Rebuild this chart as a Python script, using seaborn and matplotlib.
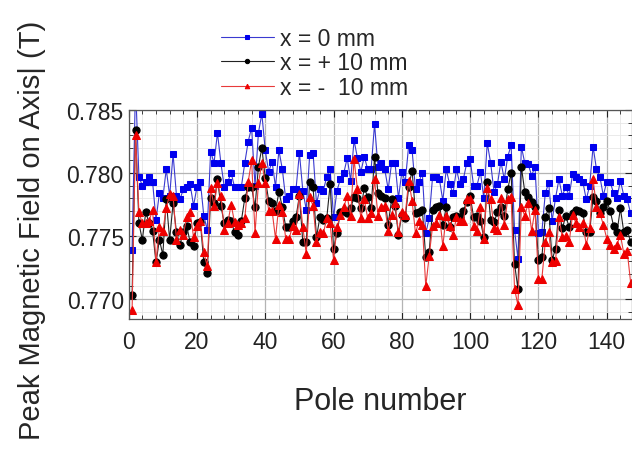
import numpy as np
import pandas as pd
import matplotlib
matplotlib.use("Agg")
import matplotlib.pyplot as plt
from matplotlib.ticker import MultipleLocator
import seaborn as sns

# peak field per pole
poles = list(range(1, 148))

field_x0 = [
    0.7739, 0.7870, 0.7797, 0.7790, 0.7793, 0.7797, 0.7793, 0.7763, 0.7784, 0.7780,
    0.7803, 0.7782, 0.7815, 0.7782, 0.7779, 0.7787, 0.7789, 0.7791, 0.7774, 0.7789,
    0.7793, 0.7766, 0.7755, 0.7817, 0.7808, 0.7832, 0.7808, 0.7789, 0.7793, 0.7800,
    0.7789, 0.7789, 0.7789, 0.7808, 0.7825, 0.7836, 0.7790, 0.7832, 0.7847, 0.7818,
    0.7801, 0.7809, 0.7789, 0.7818, 0.7803, 0.7779, 0.7782, 0.7787, 0.7787, 0.7816,
    0.7786, 0.7771, 0.7814, 0.7816, 0.7776, 0.7787, 0.7786, 0.7797, 0.7803, 0.7765,
    0.7786, 0.7795, 0.7800, 0.7812, 0.7794, 0.7826, 0.7812, 0.7801, 0.7813, 0.7803,
    0.7803, 0.7839, 0.7805, 0.7808, 0.7803, 0.7787, 0.7808, 0.7808, 0.7780, 0.7801,
    0.7793, 0.7822, 0.7818, 0.7787, 0.7793, 0.7800, 0.7752, 0.7764, 0.7797, 0.7797,
    0.7795, 0.7778, 0.7803, 0.7791, 0.7784, 0.7803, 0.7791, 0.7795, 0.7808, 0.7811,
    0.7790, 0.7790, 0.7801, 0.7780, 0.7824, 0.7808, 0.7785, 0.7791, 0.7809, 0.7795,
    0.7813, 0.7822, 0.7755, 0.7732, 0.7821, 0.7808, 0.7807, 0.7798, 0.7805, 0.7752,
    0.7753, 0.7784, 0.7792, 0.7762, 0.7780, 0.7795, 0.7782, 0.7789, 0.7782, 0.7799,
    0.7797, 0.7795, 0.7793, 0.7779, 0.7790, 0.7821, 0.7803, 0.7797, 0.7782, 0.7793,
    0.7793, 0.7784, 0.7780, 0.7794, 0.7782, 0.7779, 0.7768,
]

field_xp10 = [
    0.7703, 0.7834, 0.7760, 0.7747, 0.7769, 0.7760, 0.7754, 0.7729, 0.7747, 0.7735,
    0.7779, 0.7747, 0.7776, 0.7753, 0.7743, 0.7753, 0.7758, 0.7745, 0.7742, 0.7760,
    0.7761, 0.7729, 0.7721, 0.7780, 0.7776, 0.7795, 0.7774, 0.7760, 0.7763, 0.7762,
    0.7753, 0.7751, 0.7762, 0.7780, 0.7789, 0.7789, 0.7773, 0.7805, 0.7820, 0.7796,
    0.7778, 0.7776, 0.7770, 0.7785, 0.7773, 0.7757, 0.7757, 0.7762, 0.7765, 0.7782,
    0.7745, 0.7745, 0.7793, 0.7789, 0.7749, 0.7765, 0.7763, 0.7764, 0.7791, 0.7740,
    0.7752, 0.7769, 0.7770, 0.7768, 0.7772, 0.7781, 0.7780, 0.7772, 0.7788, 0.7781,
    0.7772, 0.7813, 0.7784, 0.7782, 0.7780, 0.7759, 0.7779, 0.7774, 0.7751, 0.7767,
    0.7764, 0.7789, 0.7802, 0.7768, 0.7769, 0.7771, 0.7733, 0.7737, 0.7771, 0.7773,
    0.7774, 0.7759, 0.7773, 0.7757, 0.7765, 0.7766, 0.7765, 0.7770, 0.7777, 0.7782,
    0.7765, 0.7766, 0.7762, 0.7749, 0.7793, 0.7763, 0.7761, 0.7769, 0.7773, 0.7766,
    0.7787, 0.7800, 0.7728, 0.7708, 0.7805, 0.7785, 0.7781, 0.7777, 0.7773, 0.7731,
    0.7733, 0.7765, 0.7772, 0.7731, 0.7740, 0.7771, 0.7756, 0.7766, 0.7757, 0.7768,
    0.7771, 0.7770, 0.7768, 0.7753, 0.7753, 0.7781, 0.7778, 0.7768, 0.7773, 0.7778,
    0.7770, 0.7758, 0.7753, 0.7772, 0.7753, 0.7755, 0.7745,
]

field_xm10 = [
    0.7691, 0.7830, 0.7769, 0.7760, 0.7760, 0.7762, 0.7771, 0.7729, 0.7757, 0.7754,
    0.7772, 0.7783, 0.7782, 0.7747, 0.7755, 0.7751, 0.7765, 0.7769, 0.7749, 0.7758,
    0.7762, 0.7737, 0.7726, 0.7788, 0.7774, 0.7792, 0.7782, 0.7755, 0.7760, 0.7775,
    0.7761, 0.7759, 0.7760, 0.7764, 0.7793, 0.7810, 0.7752, 0.7792, 0.7808, 0.7792,
    0.7770, 0.7770, 0.7748, 0.7775, 0.7769, 0.7748, 0.7748, 0.7758, 0.7755, 0.7783,
    0.7757, 0.7736, 0.7781, 0.7774, 0.7745, 0.7753, 0.7752, 0.7764, 0.7760, 0.7731,
    0.7757, 0.7767, 0.7773, 0.7782, 0.7766, 0.7811, 0.7787, 0.7764, 0.7779, 0.7764,
    0.7768, 0.7795, 0.7766, 0.7773, 0.7774, 0.7754, 0.7767, 0.7776, 0.7753, 0.7769,
    0.7767, 0.7794, 0.7778, 0.7752, 0.7762, 0.7759, 0.7710, 0.7734, 0.7758, 0.7760,
    0.7767, 0.7742, 0.7766, 0.7758, 0.7751, 0.7765, 0.7762, 0.7762, 0.7779, 0.7779,
    0.7758, 0.7754, 0.7773, 0.7748, 0.7788, 0.7779, 0.7756, 0.7755, 0.7780, 0.7759,
    0.7779, 0.7781, 0.7708, 0.7695, 0.7773, 0.7766, 0.7776, 0.7754, 0.7771, 0.7716,
    0.7716, 0.7745, 0.7753, 0.7729, 0.7730, 0.7765, 0.7749, 0.7750, 0.7745, 0.7767,
    0.7760, 0.7757, 0.7760, 0.7743, 0.7756, 0.7795, 0.7773, 0.7768, 0.7759, 0.7748,
    0.7743, 0.7740, 0.7743, 0.7751, 0.7736, 0.7738, 0.7713,
]

labels = ["x = 0 mm", "x = + 10 mm", "x = -  10 mm"]

sns.set_style("ticks")
plt.rcParams["font.family"] = ["Liberation Sans", "DejaVu Sans"]

fig = plt.figure(figsize=(6.32, 4.60), dpi=100)
ax = fig.add_axes([0.2036, 0.3043, 0.7964, 0.4543])

series = [
    (field_x0, labels[0], "#3a3ad0", "#0000ee", "s", 4.5),
    (field_xp10, labels[1], "#222222", "#000000", "o", 5.2),
    (field_xm10, labels[2], "#e83a3a", "#ee0000", "^", 5.4),
]
for vals, lab, lc, mc, mk, ms in series:
    df = pd.DataFrame({"pole": poles, "field": vals})
    sns.lineplot(data=df, x="pole", y="field", ax=ax, color=lc, lw=0.8,
                 marker=mk, markersize=ms, markerfacecolor=mc,
                 markeredgecolor=mc, label=lab, clip_on=True)

ax.set_xlim(0, 147.4)
ax.set_ylim(0.76841, 0.785)
ax.xaxis.set_major_locator(MultipleLocator(20))
ax.xaxis.set_minor_locator(MultipleLocator(4))
ax.yaxis.set_major_locator(MultipleLocator(0.005))
ax.yaxis.set_minor_locator(MultipleLocator(0.001))
ax.yaxis.set_major_formatter(plt.FormatStrFormatter("%.3f"))

ax.grid(which="major", color="#b4b4b4", lw=0.9)
ax.grid(which="minor", color="#e6e6e6", lw=0.6)
ax.set_axisbelow(True)
ax.tick_params(which="both", direction="in", top=True, right=True,
               labelsize=16.5, colors="#222222")
ax.tick_params(axis="x", which="major", pad=8)
ax.tick_params(which="major", length=5, width=0.8)
ax.tick_params(which="minor", length=3, width=0.6)
for sp in ax.spines.values():
    sp.set_color("#555555")
    sp.set_linewidth(0.9)

ax.set_xlabel("Pole number", fontsize=22, labelpad=24)
ax.set_ylabel("Peak Magnetic Field on Axis| (T)", fontsize=21)
ax.yaxis.set_label_coords(-0.165, 0.43)

handles, labs = ax.get_legend_handles_labels()
ax.legend_.remove()
fig.legend(handles, labs, loc="upper left", bbox_to_anchor=(0.335, 0.96),
           frameon=False, fontsize=16.5, handlelength=2.3, handletextpad=0.3,
           labelspacing=0.08, markerscale=0.6, borderaxespad=0)

fig.savefig("out.png", dpi=100)
